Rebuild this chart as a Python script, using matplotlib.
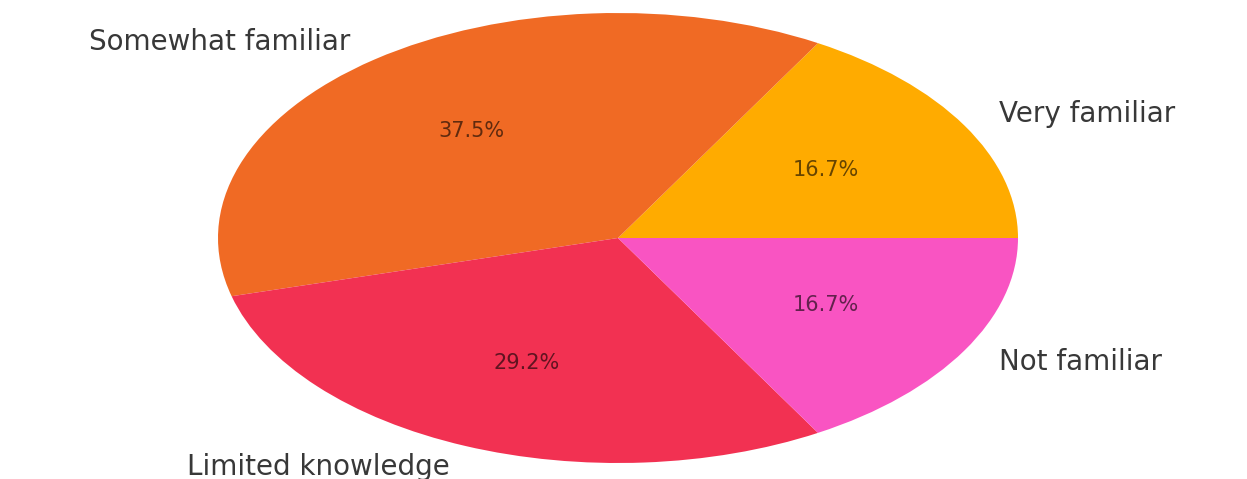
import matplotlib
matplotlib.use("Agg")
import matplotlib.pyplot as plt

labels = ["Very familiar", "Somewhat familiar", "Limited knowledge", "Not familiar"]
values = [4, 9, 7, 4]
colors = ["#FFAB00", "#F06A24", "#F23152", "#F954C2"]

fig = plt.figure(figsize=(12.47, 4.79), dpi=100)
ax = fig.add_axes([0, 0, 1, 1])
wedges, texts, autotexts = ax.pie(
    values, labels=labels, colors=colors, autopct="%1.1f%%",
    startangle=0, counterclock=True,
    textprops={"fontsize": 20, "color": "#383838"},
)
for t in autotexts:
    t.set_fontsize(15)
    t.set_color("#000000")
    t.set_alpha(0.6)

ax.set_aspect("auto")
cx, cy, rx, ry = 618, 238, 400, 225
W, H = 1247, 479
ax.set_xlim(-cx / rx, (W - cx) / rx)
ax.set_ylim(-(H - cy) / ry, cy / ry)
ax.axis("off")

fig.savefig("out.png", dpi=100, facecolor="white")
